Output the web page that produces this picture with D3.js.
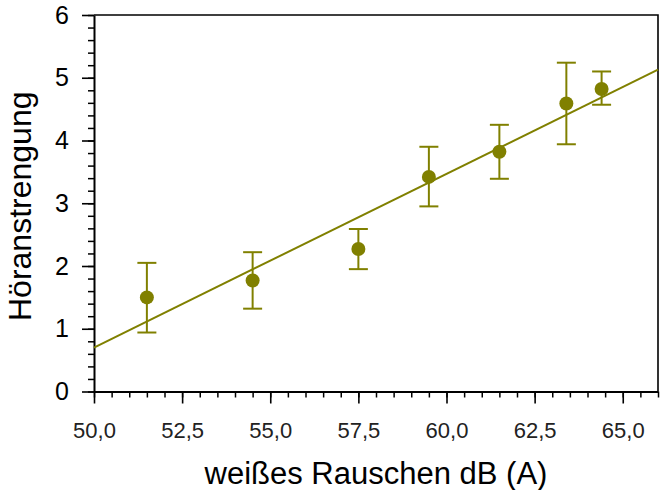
<!DOCTYPE html>
<html>
<head>
<meta charset="utf-8">
<script src="https://cdn.jsdelivr.net/npm/d3@7"></script>
<style>
  html, body { margin: 0; padding: 0; background: #fff; }
  svg { display: block; font-family: "Liberation Sans", Arial, sans-serif; }
</style>
</head>
<body>
<svg id="chart" width="660" height="490"></svg>
<script>
// Mean listening effort per white-noise level, with error bar bounds
const noiseLevel = [51.5, 54.5, 57.5, 59.5, 61.5, 63.4, 64.4];
const effortMean = [1.50, 1.77, 2.27, 3.42, 3.82, 4.59, 4.82];
const effortLow  = [0.94, 1.32, 1.95, 2.95, 3.39, 3.94, 4.57];
const effortHigh = [2.05, 2.22, 2.59, 3.90, 4.25, 5.24, 5.10];

// Regression line end points
const fitX = [50, 66];
const fitY = [0.70, 5.13];

// Axis ticks
const xMajorTicks = [50, 52.5, 55, 57.5, 60, 62.5, 65];
const yMajorTicks = [0, 1, 2, 3, 4, 5, 6];

const xLabel = "weißes Rauschen dB (A)";
const yLabel = "Höranstrengung";

const olive = "#808000";

const svg = d3.select("#chart");
const plotL = 94, plotR = 658, plotT = 15, plotB = 391.5;

const x = d3.scaleLinear().domain([50, 66]).range([plotL, plotR]);
const y = d3.scaleLinear().domain([0, 6]).range([plotB, plotT]);

const xMinor = d3.range(50, 66.001, 0.5);
const yMinor = d3.range(0, 6.001, 0.2);

// frame: top and right edges
svg.append("path")
  .attr("d", `M${plotL},${plotT}H${plotR}V${plotB}`)
  .attr("fill", "none").attr("stroke", "#000").attr("stroke-width", 1.6);

// minor ticks
svg.append("g").attr("transform", `translate(${plotL},0)`)
  .call(d3.axisLeft(y).tickValues(yMinor).tickSize(6).tickFormat(""))
  .call(g => g.select(".domain").remove())
  .call(g => g.selectAll("line").attr("stroke-width", 1.5));
svg.append("g").attr("transform", `translate(0,${plotB})`)
  .call(d3.axisBottom(x).tickValues(xMinor).tickSize(6).tickFormat(""))
  .call(g => g.select(".domain").remove())
  .call(g => g.selectAll("line").attr("stroke-width", 1.5));

// major axes
const commaFmt = d => d3.format(".1f")(d).replace(".", ",");

svg.append("g").attr("transform", `translate(${plotL},0)`)
  .call(d3.axisLeft(y).tickValues(yMajorTicks).tickSize(12).tickSizeOuter(0).tickPadding(13).tickFormat(d3.format("d")))
  .call(g => g.select(".domain").attr("stroke-width", 2))
  .call(g => g.selectAll("line").attr("stroke-width", 1.6))
  .call(g => g.selectAll("text").attr("font-size", 25).attr("fill", "#000")
    .attr("font-family", "Liberation Sans, Arial, sans-serif"));

svg.append("g").attr("transform", `translate(0,${plotB})`)
  .call(d3.axisBottom(x).tickValues(xMajorTicks).tickSize(12).tickSizeOuter(0).tickPadding(19).tickFormat(commaFmt))
  .call(g => g.select(".domain").attr("stroke-width", 2))
  .call(g => g.selectAll("line").attr("stroke-width", 1.6))
  .call(g => g.selectAll("text").attr("font-size", 22).attr("fill", "#222")
    .attr("font-family", "Liberation Sans, Arial, sans-serif"));

// axis titles
svg.append("text")
  .attr("x", (plotL + plotR) / 2).attr("y", 484)
  .attr("text-anchor", "middle").attr("font-size", 31).attr("fill", "#000")
  .text(xLabel);

svg.append("text")
  .attr("transform", `translate(31,${(plotT + plotB) / 2 + 3}) rotate(-90)`)
  .attr("text-anchor", "middle").attr("font-size", 32).attr("fill", "#000")
  .text(yLabel);

// regression line
svg.append("line")
  .attr("x1", x(fitX[0])).attr("y1", y(fitY[0]))
  .attr("x2", x(fitX[1])).attr("y2", y(fitY[1]))
  .attr("stroke", olive).attr("stroke-width", 2);

// error bars
const data = noiseLevel.map((v, i) => ({ x: v, m: effortMean[i], lo: effortLow[i], hi: effortHigh[i] }));
const eb = svg.append("g").attr("stroke", olive).attr("stroke-width", 2).attr("fill", "none");
data.forEach(d => {
  const cx = x(d.x);
  eb.append("line").attr("x1", cx).attr("x2", cx).attr("y1", y(d.lo)).attr("y2", y(d.hi));
  eb.append("line").attr("x1", cx - 9.5).attr("x2", cx + 9.5).attr("y1", y(d.lo)).attr("y2", y(d.lo));
  eb.append("line").attr("x1", cx - 9.5).attr("x2", cx + 9.5).attr("y1", y(d.hi)).attr("y2", y(d.hi));
});

// mean markers
svg.append("g").selectAll("circle").data(data).join("circle")
  .attr("cx", d => x(d.x)).attr("cy", d => y(d.m)).attr("r", 7)
  .attr("fill", olive);
</script>
</body>
</html>
